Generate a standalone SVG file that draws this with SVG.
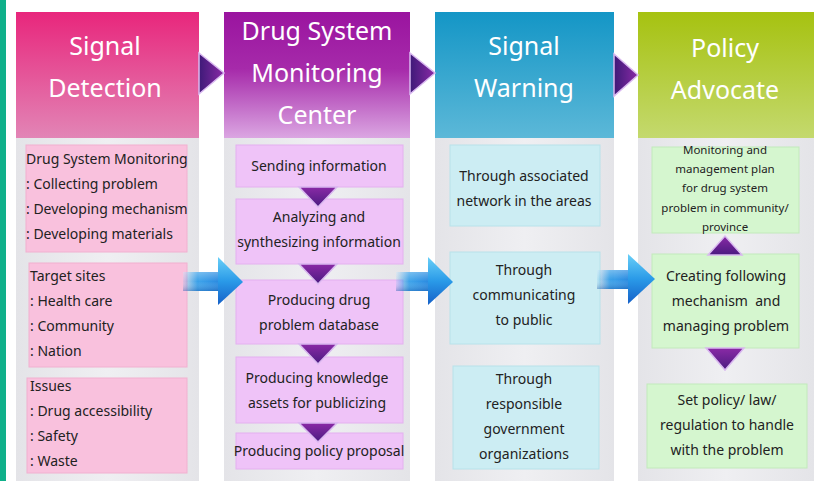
<svg xmlns="http://www.w3.org/2000/svg" width="818" height="481" viewBox="0 0 818 481">
<defs>
<linearGradient id="gPink" x1="0" y1="0" x2="0" y2="1"><stop offset="0" stop-color="#e8267c"/><stop offset="1" stop-color="#e285b6"/></linearGradient>
<linearGradient id="gPurple" x1="0" y1="0" x2="0" y2="1"><stop offset="0" stop-color="#9a149f"/><stop offset="0.45" stop-color="#a62aaa"/><stop offset="1" stop-color="#dba6e2"/></linearGradient>
<linearGradient id="gCyan" x1="0" y1="0" x2="0" y2="1"><stop offset="0" stop-color="#1496c6"/><stop offset="1" stop-color="#5cb8d8"/></linearGradient>
<linearGradient id="gGreen" x1="0" y1="0" x2="0" y2="1"><stop offset="0" stop-color="#a6c210"/><stop offset="1" stop-color="#c4d96e"/></linearGradient>
<linearGradient id="gBody" x1="0" y1="0" x2="1" y2="0"><stop offset="0" stop-color="#e4e4e8"/><stop offset="0.5" stop-color="#efeff2"/><stop offset="1" stop-color="#e4e4e8"/></linearGradient>
<linearGradient id="gTri" x1="0" y1="0" x2="1" y2="0"><stop offset="0" stop-color="#3e1a78"/><stop offset="1" stop-color="#8a2aa6"/></linearGradient>
<linearGradient id="gTriV" x1="0" y1="0" x2="0" y2="1"><stop offset="0" stop-color="#8a2aa6"/><stop offset="1" stop-color="#4a1a80"/></linearGradient>
<linearGradient id="gArrowHead" x1="0" y1="0" x2="0" y2="1"><stop offset="0" stop-color="#6ad0f8"/><stop offset="0.5" stop-color="#2a9ae8"/><stop offset="1" stop-color="#1560c8"/></linearGradient>
<linearGradient id="gShaft" x1="0" y1="0" x2="1" y2="0"><stop offset="0" stop-color="#2a9ae8" stop-opacity="0.1"/><stop offset="0.4" stop-color="#2a9ae8" stop-opacity="0.9"/><stop offset="1" stop-color="#2a8ae0"/></linearGradient>
<linearGradient id="gShaftV" x1="0" y1="0" x2="0" y2="1"><stop offset="0" stop-color="#ffffff" stop-opacity="0.3"/><stop offset="0.5" stop-color="#ffffff" stop-opacity="0"/><stop offset="1" stop-color="#0a3a90" stop-opacity="0.3"/></linearGradient>
</defs>
<style>
.hd{font-family:"Noto Sans","Open Sans",sans-serif;font-size:25px;fill:#ffffff;text-anchor:middle}
.t{font-family:"Noto Sans","Open Sans",sans-serif;font-size:14px;fill:#222222;white-space:pre}
.c{text-anchor:middle}
.s{font-size:11.5px}
.body{fill:url(#gBody)}
.pk{fill:#f9c1dd;stroke:#f1b0d0;stroke-width:1}
.pu{fill:#efc3f8;stroke:#e4b0f0;stroke-width:1}
.cy{fill:#ccedf3;stroke:#b8e2ea;stroke-width:1}
.gr{fill:#d5f6cf;stroke:#c2eabb;stroke-width:1}
.chev{fill:url(#gTri);stroke:#d9b8f0;stroke-width:1.5}
.tri{fill:url(#gTriV);stroke:#d9b8f0;stroke-width:1.5}
.ah{fill:url(#gArrowHead)}
.sh{fill:url(#gShaft)}
</style>
<rect x="0" y="0" width="818" height="481" fill="#ffffff"/>
<rect x="0" y="0" width="6" height="481" fill="#0fb08a"/>

<g id="col-signal-detection">
<rect class="body" x="16" y="138" width="183" height="343"/>
<rect x="16" y="12" width="183" height="126" fill="url(#gPink)"/>
<text class="hd" x="105" y="55">Signal</text>
<text class="hd" x="105" y="97">Detection</text>
</g>
<g id="col-monitoring-center">
<rect class="body" x="224" y="138" width="186" height="343"/>
<rect x="224" y="12" width="186" height="126" fill="url(#gPurple)"/>
<text class="hd" x="317" y="40">Drug System</text>
<text class="hd" x="317" y="82">Monitoring</text>
<text class="hd" x="317" y="124">Center</text>
</g>
<g id="col-signal-warning">
<rect class="body" x="435" y="138" width="179" height="343"/>
<rect x="435" y="12" width="179" height="126" fill="url(#gCyan)"/>
<text class="hd" x="524" y="55">Signal</text>
<text class="hd" x="524" y="97">Warning</text>
</g>
<g id="col-policy-advocate">
<rect class="body" x="638" y="138" width="176" height="343"/>
<rect x="638" y="12" width="176" height="126" fill="url(#gGreen)"/>
<text class="hd" x="725" y="57">Policy</text>
<text class="hd" x="725" y="99">Advocate</text>
</g>

<g id="sd-monitoring">
<rect class="pk" x="26" y="145" width="161" height="107"/>
<text class="t" x="26" y="164">Drug System Monitoring</text>
<text class="t" x="26" y="189">: Collecting problem</text>
<text class="t" x="26" y="214">: Developing mechanism</text>
<text class="t" x="26" y="239">: Developing materials</text>
</g>
<g id="sd-target">
<rect class="pk" x="29" y="263" width="158" height="104"/>
<text class="t" x="30" y="281">Target sites</text>
<text class="t" x="30" y="306">: Health care</text>
<text class="t" x="30" y="331">: Community</text>
<text class="t" x="30" y="356">: Nation</text>
</g>
<g id="sd-issues">
<rect class="pk" x="27" y="378" width="160" height="95"/>
<text class="t" x="30" y="391">Issues</text>
<text class="t" x="30" y="416">: Drug accessibility</text>
<text class="t" x="30" y="441">: Safety</text>
<text class="t" x="30" y="466">: Waste</text>
</g>

<g id="mc-sending">
<rect class="pu" x="236" y="145" width="167" height="42"/>
<text class="t c" x="319" y="171">Sending information</text>
</g>
<g id="mc-analyzing">
<rect class="pu" x="236" y="199" width="167" height="65"/>
<text class="t c" x="319" y="222">Analyzing and</text>
<text class="t c" x="319" y="247">synthesizing information</text>
</g>
<g id="mc-database">
<rect class="pu" x="236" y="280" width="167" height="64"/>
<text class="t c" x="319" y="305">Producing drug</text>
<text class="t c" x="319" y="330">problem database</text>
</g>
<g id="mc-knowledge">
<rect class="pu" x="236" y="357" width="167" height="66"/>
<text class="t c" x="317" y="383">Producing knowledge</text>
<text class="t c" x="317" y="408">assets for publicizing</text>
</g>
<g id="mc-policy">
<rect class="pu" x="236" y="433" width="167" height="36"/>
<text class="t c" x="319" y="456">Producing policy proposal</text>
</g>

<g id="sw-network">
<rect class="cy" x="450" y="145" width="150" height="81"/>
<text class="t c" x="524" y="181">Through associated</text>
<text class="t c" x="524" y="206">network in the areas</text>
</g>
<g id="sw-public">
<rect class="cy" x="450" y="252" width="150" height="92"/>
<text class="t c" x="524" y="275">Through</text>
<text class="t c" x="524" y="300">communicating</text>
<text class="t c" x="524" y="325">to public</text>
</g>
<g id="sw-government">
<rect class="cy" x="453" y="366" width="146" height="103"/>
<text class="t c" x="524" y="384">Through</text>
<text class="t c" x="524" y="409">responsible</text>
<text class="t c" x="524" y="434">government</text>
<text class="t c" x="524" y="459">organizations</text>
</g>

<g id="pa-plan">
<rect class="gr" x="652" y="147" width="147" height="86"/>
<text class="t s c" x="725" y="154">Monitoring and</text>
<text class="t s c" x="725" y="173">management plan</text>
<text class="t s c" x="725" y="192">for drug system</text>
<text class="t s c" x="725" y="212">problem in community/</text>
<text class="t s c" x="725" y="231">province</text>
</g>
<g id="pa-mechanism">
<rect class="gr" x="652" y="254" width="147" height="94"/>
<text class="t c" x="726" y="281">Creating following</text>
<text class="t c" x="726" y="306">mechanism  and</text>
<text class="t c" x="726" y="331">managing problem</text>
</g>
<g id="pa-set-policy">
<rect class="gr" x="647" y="384" width="160" height="84"/>
<text class="t c" x="727" y="405">Set policy/ law/</text>
<text class="t c" x="727" y="430">regulation to handle</text>
<text class="t c" x="727" y="455">with the problem</text>
</g>

<g id="connectors">
<polygon class="chev" points="199,53 224,73 199,94"/>
<polygon class="chev" points="410,53 435,73 410,94"/>
<polygon class="chev" points="614,54 638,75 614,96"/>

<polygon class="tri" points="299,187 337,187 318,207"/>
<polygon class="tri" points="299,264 337,264 318,284"/>
<polygon class="tri" points="299,344 337,344 318,364"/>
<polygon class="tri" points="299,423 337,423 318,442"/>
<polygon class="tri" points="708,255 742,255 725,236"/>
<polygon class="tri" points="706,348 744,348 725,370"/>

<rect class="sh" x="183" y="272" width="36" height="19"/>
<rect x="183" y="272" width="36" height="19" fill="url(#gShaftV)"/>
<polygon class="ah" points="218,257 243,282 218,305"/>
<rect class="sh" x="396" y="272" width="33" height="19"/>
<rect x="396" y="272" width="33" height="19" fill="url(#gShaftV)"/>
<polygon class="ah" points="428,257 453,282 428,305"/>
<rect class="sh" x="597" y="270" width="32" height="19"/>
<rect x="597" y="270" width="32" height="19" fill="url(#gShaftV)"/>
<polygon class="ah" points="628,254 655,279 628,304"/>
</g>
</svg>
